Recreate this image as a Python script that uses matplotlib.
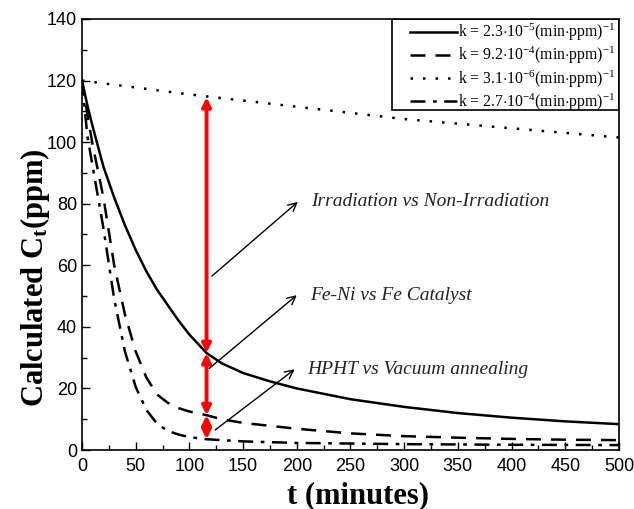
import matplotlib
matplotlib.use('Agg')
from matplotlib import pyplot as plt
from matplotlib.ticker import MultipleLocator
from matplotlib.patches import Rectangle

plt.rcParams['mathtext.fontset'] = 'custom'
plt.rcParams['mathtext.rm'] = 'Liberation Serif'
plt.rcParams['mathtext.it'] = 'Liberation Serif:italic'
plt.rcParams['mathtext.bf'] = 'Liberation Serif:bold'

# values
t_solid = [0, 5, 10, 15, 20, 30, 40, 50, 60, 70, 80, 90, 100, 116, 130, 150, 175, 200, 250, 300, 350, 400, 450, 500]
c_solid = [120, 112, 105, 98.5, 92, 82, 73, 65, 58, 52, 47, 42, 37.5, 31.5, 28.2, 25, 22.3, 20, 16.5, 14, 12, 10.5, 9.3, 8.4]

t_dash = [0, 5, 10, 20, 30, 40, 50, 60, 70, 80, 90, 100, 116, 130, 150, 200, 250, 300, 350, 400, 450, 500]
c_dash = [120, 109, 99, 82, 60, 44, 32, 23.5, 18, 15.3, 13.6, 12.5, 11.3, 10, 8.8, 6.9, 5.4, 4.5, 4.0, 3.6, 3.35, 3.2]

t_dot = [0, 100, 200, 300, 400, 500]
c_dot = [120, 115.5, 111.5, 107.5, 104.5, 101.5]

t_dashdot = [0, 5, 10, 20, 30, 40, 50, 60, 70, 80, 90, 100, 116, 150, 200, 300, 400, 500]
c_dashdot = [120, 102, 92, 72, 49, 32, 20.5, 13, 8.5, 6.2, 5, 4.2, 3.5, 2.8, 2.3, 1.9, 1.7, 1.6]

labels = [r'k = 2.3$\cdot$10$^{-5}$(min$\cdot$ppm)$^{-1}$',
          r'k = 9.2$\cdot$10$^{-4}$(min$\cdot$ppm)$^{-1}$',
          r'k = 3.1$\cdot$10$^{-6}$(min$\cdot$ppm)$^{-1}$',
          r'k = 2.7$\cdot$10$^{-4}$(min$\cdot$ppm)$^{-1}$']

# red double arrows at t = 116
t_arrow = 116
arrow_levels = [114.6, 31.5, 11.3, 3.5]

notes = ['Irradiation vs Non-Irradiation', 'Fe-Ni vs Fe Catalyst', 'HPHT vs Vacuum annealing']
note_start = [(121, 56.5), (118.5, 26.5), (124, 6.5)]
note_end = [(201, 80.6), (200, 50.3), (198, 26.2)]

fig = plt.figure(figsize=(6.34, 5.09), dpi=100)
ax = fig.add_axes([0.1293, 0.1159, 0.8470, 0.8468])

ax.plot(t_solid, c_solid, color='black', lw=1.8, linestyle='-', label=labels[0])
ax.plot(t_dash, c_dash, color='black', lw=1.8, linestyle=(0, (6, 4)), label=labels[1])
ax.plot(t_dot, c_dot, color='black', lw=1.8, linestyle=(0, (1, 4)), label=labels[2])
ax.plot(t_dashdot, c_dashdot, color='black', lw=1.8, linestyle=(0, (6, 3, 1.5, 3)), label=labels[3])

for i in range(len(arrow_levels) - 1):
    ax.annotate('', xy=(t_arrow, arrow_levels[i + 1]), xytext=(t_arrow, arrow_levels[i]),
                arrowprops=dict(arrowstyle='<|-|>', color='red', lw=2.8,
                                mutation_scale=13, shrinkA=0, shrinkB=0))

for txt, s, e in zip(notes, note_start, note_end):
    ax.annotate('', xy=e, xytext=s,
                arrowprops=dict(arrowstyle='->', color='black', lw=1.0,
                                mutation_scale=15, shrinkA=0, shrinkB=0))
    ax.text(e[0] + 12, e[1], txt, fontsize=14, style='italic',
            family='Liberation Serif', va='center', ha='left', color='#222222')

ax.set_xlim(0, 500)
ax.set_ylim(0, 140)
ax.xaxis.set_major_locator(MultipleLocator(50))
ax.xaxis.set_minor_locator(MultipleLocator(25))
ax.yaxis.set_major_locator(MultipleLocator(20))
ax.yaxis.set_minor_locator(MultipleLocator(10))
ax.tick_params(which='both', direction='in', top=False, right=False,
               labelsize=13, width=1.0, colors='black')
ax.tick_params(which='major', length=6)
ax.tick_params(which='minor', length=3.5)
ax.tick_params(axis='x', pad=6)
for lab in ax.get_xticklabels() + ax.get_yticklabels():
    lab.set_family('Liberation Sans')
for sp in ax.spines.values():
    sp.set_linewidth(1.2)

ax.set_xlabel('t (minutes)', fontsize=22, family='Liberation Serif', fontweight='bold')
ax.set_ylabel(r'Calculated C$_\mathbf{t}$(ppm)', fontsize=22, family='Liberation Serif',
              fontweight='bold')
ax.xaxis.set_label_coords(0.514, -0.072)
ax.yaxis.set_label_coords(-0.055, 0.40)

# legend text without its own frame, frame drawn as a box like the original
leg = ax.legend(loc='upper right', bbox_to_anchor=(0.997, 0.997), frameon=False,
                handlelength=3.0, handletextpad=0.1, borderaxespad=0, borderpad=0.1,
                labelspacing=0.12, prop={'family': 'Liberation Serif', 'size': 11.3})
ax.add_patch(Rectangle((0.578, 0.79), 0.422, 0.21, transform=ax.transAxes,
                       fill=False, edgecolor='black', lw=1.2, zorder=5))

fig.savefig('out.png', dpi=100)
